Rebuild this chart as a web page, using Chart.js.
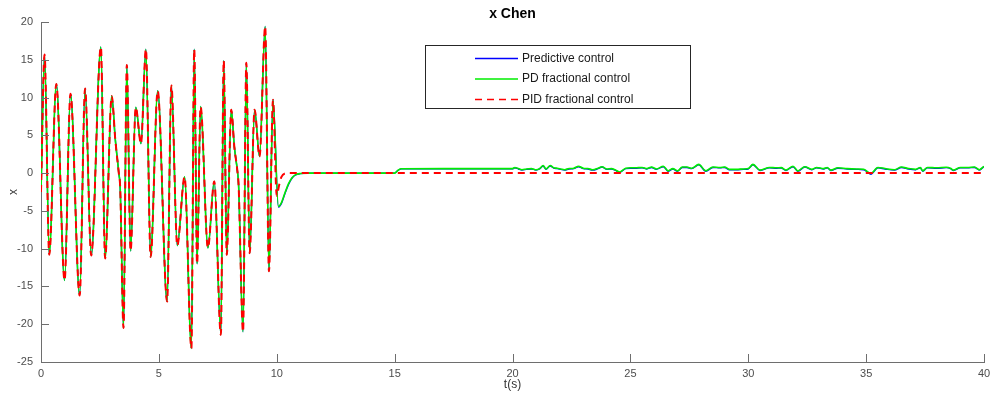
<!DOCTYPE html>
<html>
<head>
<meta charset="utf-8">
<script src="https://cdn.jsdelivr.net/npm/chart.js@4/dist/chart.umd.min.js"></script>
<style>
  html, body { margin: 0; padding: 0; background: #ffffff; }
  #wrap { position: relative; width: 992px; height: 400px; }
</style>
</head>
<body>
<div id="wrap"><canvas id="c" width="992" height="400"></canvas></div>
<script>
// ---- Data ----
const chartTitle = "x Chen";
const xAxisLabel = "t(s)";
const yAxisLabel = "x";
const seriesNames = ["Predictive control", "PD fractional control", "PID fractional control"];
const xTicks = [0, 5, 10, 15, 20, 25, 30, 35, 40];
const yTicks = [-25, -20, -15, -10, -5, 0, 5, 10, 15, 20];

// Chaotic part common to all three controllers (t < 10 s)
const tChaos = [0, 0.15, 0.35, 0.65, 1.0, 1.25, 1.64, 1.87, 2.13, 2.54, 2.72, 3.0, 3.15, 3.3, 3.36, 3.5,
  3.64, 3.8, 4.02, 4.24, 4.45, 4.65, 4.95, 5.35, 5.53, 5.78, 6.09, 6.38, 6.5, 6.62, 6.77, 7.08,
  7.35, 7.63, 7.75, 7.88, 8.07, 8.2, 8.33, 8.38, 8.57, 8.71, 8.85, 9.06, 9.27, 9.51, 9.67, 9.84];
const xChaos = [-2.5, 15.7, -10.8, 11.8, -14.2, 10.5, -16.2, 11.2, -10.9, 16.7, -11.3, 10.2, 4.5, 0.0, -2.0, -20.5,
  14.3, -10.3, 8.7, 3.9, 16.4, -11.1, 10.9, -17.0, 11.6, -9.6, -0.5, -23.2, 16.4, -12.0, 8.8, -9.9,
  -1.1, -21.4, 14.9, -10.8, 8.4, 3.5, 0.3, -1.5, -21.0, 14.6, -10.6, 8.4, 2.2, 19.4, -13.0, 9.7];

// PID fractional control after activation
const tPID = [10.0, 10.1, 10.2, 10.35, 10.5, 40];
const xPID = [-3.0, -1.6, -0.5, -0.05, 0, 0];

// PD fractional control and predictive control after activation
const tPD = [10.07, 10.2, 10.35, 10.5, 10.65, 10.8, 11.0, 11.3, 15.0, 15.15, 15.3,
  20.0, 20.1, 20.25, 20.4, 20.6, 20.8, 21.0, 21.15, 21.3, 21.42, 21.6, 21.75, 21.9, 22.05, 22.2, 22.4,
  22.6, 22.8, 23.0, 23.2, 23.4, 23.6, 23.8, 24.0, 24.2, 24.35, 24.54, 24.8, 25.0, 25.2, 25.5, 25.7,
  25.9, 26.1, 26.4, 26.6, 26.8, 27.0, 27.2, 27.4, 27.6, 27.9, 28.2, 28.5, 28.8, 29.0, 29.2, 29.5,
  29.8, 30.0, 30.2, 30.5, 30.9, 31.2, 31.4, 31.6, 31.9, 32.1, 32.4, 32.7, 32.9, 33.2, 33.35, 33.5,
  33.8, 34.2, 34.6, 34.9, 35.2, 35.5, 35.8, 36.2, 36.5, 36.8, 37.1, 37.3, 37.4, 37.6, 38.0, 38.4,
  38.6, 38.7, 39.0, 39.3, 39.6, 39.8, 40.0];
const xPD = [-4.4, -3.9, -2.6, -1.4, -0.6, -0.2, -0.05, 0, 0, 0.4, 0.58,
  0.6, 0.75, 0.6, 0.45, 0.55, 0.6, 0.45, 0.6, 1.0, 0.55, 1.0, 0.7, 0.65, 0.55, 0.45, 0.6,
  0.65, 0.9, 0.65, 0.6, 0.45, 0.6, 0.85, 0.55, 0.6, 0.45, 0.15, 0.65, 0.7, 0.7, 0.75, 0.6,
  0.8, 0.55, 0.9, 0.3, 0.6, 0.3, 0.8, 0.8, 0.65, 1.15, 0.3, 0.8, 0.75, 0.8, 0.5, 0.5,
  0.55, 0.6, 1.15, 0.4, 0.75, 0.7, 0.72, 0.4, 0.9, 0.3, 0.85, 0.5, 0.75, 0.6, 0.75, 0.4,
  0.7, 0.6, 0.55, 0.5, -0.05, 0.75, 0.6, 0.45, 0.8, 0.6, 0.5, 0.75, 0.3, 0.75, 0.7, 0.77,
  0.6, 0.4, 0.75, 0.75, 0.8, 0.45, 0.9];
const xPred = [-4.5, -4.0, -2.7, -1.5, -0.65, -0.25, -0.07, 0, 0, 0.38, 0.56,
  0.58, 0.7, 0.55, 0.42, 0.5, 0.55, 0.42, 0.55, 0.95, 0.5, 0.95, 0.65, 0.6, 0.5, 0.4, 0.55,
  0.6, 0.85, 0.6, 0.55, 0.4, 0.55, 0.8, 0.5, 0.55, 0.4, 0.1, 0.6, 0.65, 0.65, 0.7, 0.55,
  0.75, 0.5, 0.85, 0.25, 0.55, 0.25, 0.75, 0.75, 0.6, 1.1, 0.25, 0.75, 0.7, 0.75, 0.45, 0.45,
  0.5, 0.55, 1.1, 0.35, 0.7, 0.65, 0.67, 0.35, 0.85, 0.25, 0.8, 0.45, 0.7, 0.55, 0.7, 0.35,
  0.65, 0.55, 0.5, 0.45, -0.15, 0.7, 0.55, 0.4, 0.75, 0.55, 0.45, 0.7, 0.25, 0.7, 0.65, 0.72,
  0.55, 0.35, 0.7, 0.7, 0.75, 0.4, 0.85];

// ---- Build point lists ----
function pts(ts, vs) { return ts.map((t, i) => ({ x: t, y: vs[i] })); }
const chaosPts = pts(tChaos, xChaos);
const pidPts = chaosPts.concat(pts(tPID, xPID));
const pdPts = chaosPts.concat(pts(tPD, xPD));
const predPts = chaosPts.concat(pts(tPD, xPred));

const COLORS = { pred: '#0000ff', pd: '#00ee00', pid: '#ff0000' };
const FONT = "'Liberation Sans', Arial, Helvetica, sans-serif";

const decorPlugin = {
  id: 'decor',
  afterDraw(chart) {
    const ctx = chart.ctx;
    const area = chart.chartArea;
    const xs = chart.scales.x, ys = chart.scales.y;
    ctx.save();
    // inward tick marks
    ctx.strokeStyle = '#6e6e6e';
    ctx.lineWidth = 1;
    ctx.beginPath();
    xTicks.forEach(v => {
      const px = Math.round(xs.getPixelForValue(v)) + 0.5;
      ctx.moveTo(px, area.bottom);
      ctx.lineTo(px, area.bottom - 8);
    });
    yTicks.forEach(v => {
      const py = Math.round(ys.getPixelForValue(v)) + 0.5;
      ctx.moveTo(area.left, py);
      ctx.lineTo(area.left + 8, py);
    });
    ctx.stroke();
    // title
    ctx.fillStyle = '#000';
    ctx.font = 'bold 14px ' + FONT;
    ctx.textAlign = 'center';
    ctx.textBaseline = 'middle';
    ctx.fillText(chartTitle, (area.left + area.right) / 2, 14);
    // legend box
    const bx = 425.5, by = 45.5, bw = 265, bh = 63;
    ctx.fillStyle = '#fff';
    ctx.fillRect(bx, by, bw, bh);
    ctx.strokeStyle = '#262626';
    ctx.strokeRect(bx, by, bw, bh);
    const entries = [
      { name: seriesNames[0], color: COLORS.pred, dash: [] },
      { name: seriesNames[1], color: COLORS.pd, dash: [] },
      { name: seriesNames[2], color: COLORS.pid, dash: [7, 5] }
    ];
    ctx.font = '12px ' + FONT;
    ctx.textAlign = 'left';
    entries.forEach((e, i) => {
      const y = 58.5 + i * 20.5;
      ctx.beginPath();
      ctx.setLineDash(e.dash);
      ctx.strokeStyle = e.color;
      ctx.lineWidth = 1.5;
      ctx.moveTo(475, y);
      ctx.lineTo(518, y);
      ctx.stroke();
      ctx.setLineDash([]);
      ctx.fillStyle = '#1a1a1a';
      ctx.fillText(e.name, 522, y);
    });
    ctx.restore();
  }
};

new Chart(document.getElementById('c'), {
  type: 'line',
  data: {
    datasets: [
      { label: seriesNames[2], data: pidPts, borderColor: COLORS.pid, borderWidth: 2, borderDash: [7, 5] },
      { label: seriesNames[1], data: pdPts, borderColor: COLORS.pd, borderWidth: 1.6 },
      { label: seriesNames[0], data: predPts, borderColor: COLORS.pred, borderWidth: 1.4 }
    ]
  },
  options: {
    responsive: false,
    animation: false,
    events: [],
    elements: {
      point: { radius: 0 },
      line: { cubicInterpolationMode: 'monotone', fill: false }
    },
    layout: { padding: { top: 22, right: 8, left: 0, bottom: 0 } },
    plugins: { legend: { display: false }, title: { display: false }, tooltip: { enabled: false } },
    scales: {
      x: {
        type: 'linear', min: 0, max: 40,
        afterBuildTicks: s => { s.ticks = xTicks.map(v => ({ value: v })); },
        afterFit: s => { s.height = 38; s.paddingRight = 0; s.paddingLeft = 0; },
        ticks: { color: '#4d4d4d', font: { family: FONT, size: 11 }, padding: 5, maxRotation: 0 },
        grid: { display: false, drawTicks: false },
        border: { display: true, color: '#6e6e6e', width: 1 },
        title: { display: true, text: xAxisLabel, color: '#333', font: { family: FONT, size: 12 }, padding: { top: 0, bottom: 8 } }
      },
      y: {
        type: 'linear', min: -25, max: 20,
        afterBuildTicks: s => { s.ticks = yTicks.map(v => ({ value: v })); },
        afterFit: s => { s.width = 41; s.paddingTop = 0; s.paddingBottom = 0; },
        ticks: { color: '#4d4d4d', font: { family: FONT, size: 11 }, padding: 8 },
        grid: { display: false, drawTicks: false },
        border: { display: true, color: '#6e6e6e', width: 1 },
        title: { display: true, text: yAxisLabel, color: '#333', font: { family: FONT, size: 12 }, padding: { top: 6, bottom: 4 } }
      }
    }
  },
  plugins: [decorPlugin]
});
</script>
</body>
</html>
